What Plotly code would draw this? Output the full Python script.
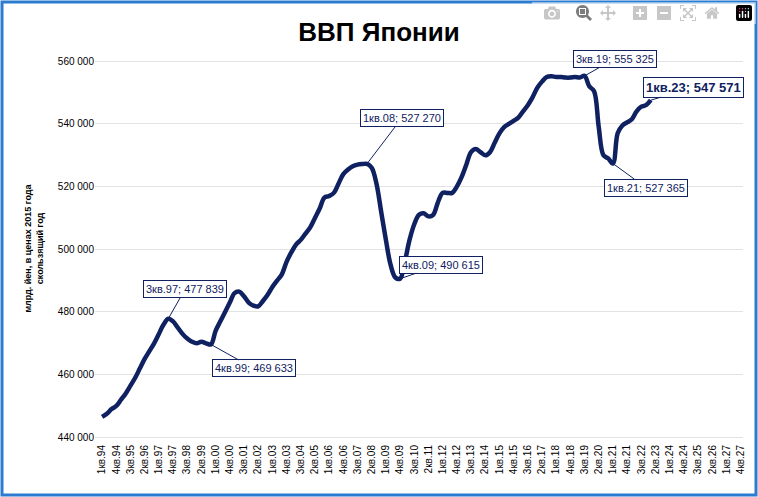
import plotly.graph_objects as go

years = list(range(1994, 2028))
categories = [f"{q}кв.{str(y)[2:]}" for y in years for q in range(1, 5)]

gdp = [
    446.5, 447.5, 449, 450,
    452, 454, 456.5, 459,
    462, 465, 467.5, 470,
    473, 476, 477.839, 477,
    475, 473, 471.5, 470.5,
    470, 470.5, 470, 469.633,
    474, 477, 480, 483,
    486, 486.5, 485, 483,
    482, 481.8, 483.5, 485.5,
    488, 490, 492, 496,
    499, 501.5, 503, 505,
    507, 510, 513, 516.5,
    517, 518, 521, 524,
    525.5, 526.5, 527, 527.2,
    527.27, 526, 521, 512,
    503, 495, 491, 490.615,
    496, 503, 508, 511,
    511.5, 510.5, 511, 515,
    518, 518, 518, 520,
    523, 527, 531, 532,
    531, 530, 531, 534,
    537, 539, 540, 541,
    542, 544, 546, 548.5,
    551.5, 553.5, 555, 555.2,
    555, 555, 554.8, 554.8,
    555, 554.8, 555.325, 552,
    550.5, 539, 530, 529,
    527.365, 537, 539.5, 540.5,
    541.5, 544, 545.5, 546,
    547.571,
]
gdp = [v * 1000 for v in gdp]
xs = categories[:len(gdp)]

y_ticks = [440000, 460000, 480000, 500000, 520000, 540000, 560000]
y_ticktext = ["440 000", "460 000", "480 000", "500 000", "520 000", "540 000", "560 000"]

labels = [
    ("3кв.97", 477839, 17, -30, 11, False),
    ("4кв.99", 469633, 43, 24, 11, False),
    ("1кв.08", 527270, 35, -46, 11, False),
    ("4кв.09", 490615, 41, -14, 11, False),
    ("3кв.19", 555325, 30, -17, 11, False),
    ("1кв.21", 527365, 33, 24, 11, False),
    ("1кв.23", 547571, 43, -13, 13, True),
]

navy = "#0f2161"
fig = go.Figure()
fig.add_trace(go.Scatter(x=xs, y=gdp, mode="lines", line=dict(color=navy, width=4.5, shape="spline"),
                         hoverinfo="skip"))

for cat, val, ax, ay, size, bold in labels:
    txt = f"{cat}; {val:,}".replace(",", " ")
    if bold:
        txt = f"<b>{txt}</b>"
    fig.add_annotation(x=cat, y=val, text=txt, showarrow=True, arrowhead=0, arrowwidth=1,
                       arrowcolor=navy, ax=ax, ay=ay, bgcolor="white", bordercolor=navy,
                       borderwidth=1, borderpad=2, font=dict(size=size, color=navy,
                       family="Liberation Sans Narrow, Liberation Sans, Arial"))

W, H, l, r, t, b = 758, 497, 95, 15, 55, 55
pw, ph = W - l - r, H - t - b
fig.add_shape(type="rect", xref="paper", yref="paper",
              x0=(2 - l) / pw, x1=(756 - l) / pw, y0=(H - b - 495) / ph, y1=(H - b - 2) / ph,
              line=dict(color="#2b7bd0", width=3), fillcolor="rgba(0,0,0,0)", layer="above")

fig.update_layout(
    width=W, height=H, margin=dict(l=l, r=r, t=t, b=b),
    paper_bgcolor="white", plot_bgcolor="white", showlegend=False,
    title=dict(text="<b>ВВП Японии</b>", x=0.5, xanchor="center", y=0.955,
               font=dict(size=26, color="black", family="Liberation Sans Narrow, Liberation Sans, Arial")),
    font=dict(family="Liberation Sans, Arial", color="black"),
    xaxis=dict(type="category", categoryorder="array", categoryarray=categories,
               range=[-1.5, len(categories) - 0.5],
               tickvals=categories[::3], tickangle=-90, tickfont=dict(size=10),
               showgrid=False, showline=False, ticks=""),
    yaxis=dict(range=[438500, 562000], tickvals=y_ticks, ticktext=y_ticktext,
               tickfont=dict(size=10), showgrid=True, gridcolor="#e3e3e3", zeroline=False,
               title=dict(text="<b>млрд. йен, в ценах 2015 года<br>скользящий год</b>",
                          font=dict(size=9), standoff=12)),
)
fig.write_html("out.html", post_script="document.body.style.margin='0';document.body.style.overflow='hidden';")
